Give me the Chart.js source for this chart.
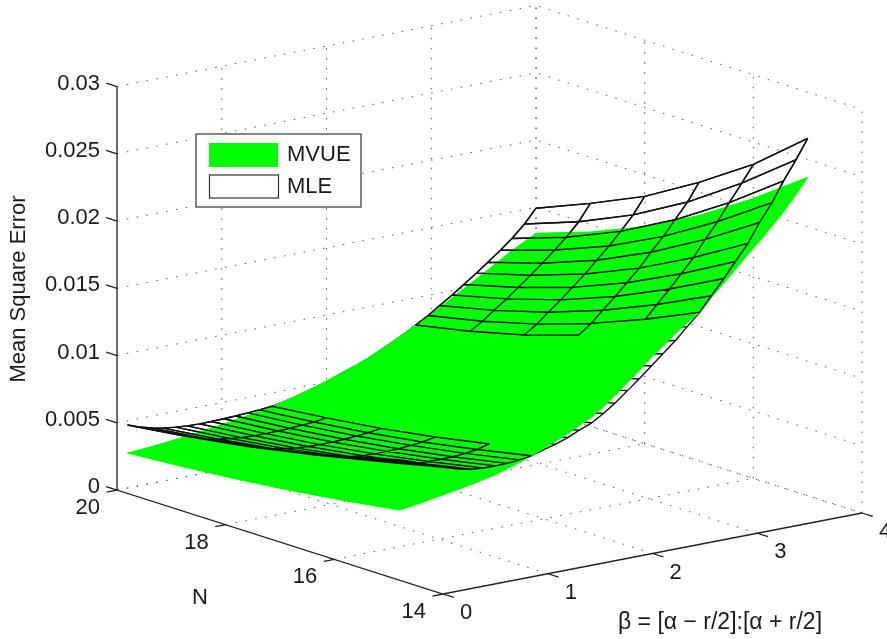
<!DOCTYPE html>
<html>
<head>
<meta charset="utf-8">
<style>
  html, body { margin: 0; padding: 0; background: #fff; }
  canvas { display: block; }
</style>
<script src="https://cdn.jsdelivr.net/npm/chart.js@4"></script>
</head>
<body>
<canvas id="grafico" width="887" height="639"></canvas>
<script>
// axis ticks
const zTicks = [0, 0.005, 0.01, 0.015, 0.02, 0.025, 0.03];
const zTickLabels = ["0", "0.005", "0.01", "0.015", "0.02", "0.025", "0.03"];
const betaTicks = [0, 1, 2, 3, 4];
const nTicks = [14, 16, 18, 20];

const zAxisTitle = "Mean Square Error";
const nAxisTitle = "N";
const betaAxisTitle = "β = [α − r/2]:[α + r/2]";
const legendLabels = ["MVUE", "MLE"];

// surface grid
const nValues = [15, 16, 17, 18, 19, 20];
const betaValues = [0.1, 0.21, 0.33, 0.44, 0.56, 0.67, 0.79, 0.9, 1.02, 1.13, 1.25, 1.36, 1.48, 1.59, 1.71, 1.82, 1.94, 2.05, 2.16, 2.28, 2.39, 2.51, 2.62, 2.74, 2.85, 2.97, 3.08, 3.2, 3.31, 3.43, 3.54, 3.66, 3.77, 3.89, 4];

// MLE, one row per N
const mleN15 = [.00855,.00825,.00790,.00760,.00727,.00700,.00680,.00672,.00670,.00672,.00680,.00694,.00722,.00745,.00777,.00815,.00852,.00905,.00965,.01040,.01110,.01190,.01265,.01345,.01430,.01519,.01625,.01735,.01845,.01962,.02100,.02230,.02375,.02515,.02656];
const mleN16 = [.00751,.00720,.00688,.00661,.00634,.00613,.00597,.00592,.00591,.00593,.00600,.00612,.00635,.00656,.00685,.00720,.00754,.00801,.00856,.00931,.00998,.01061,.01114,.01180,.01259,.01338,.01431,.01528,.01625,.01728,.01846,.01961,.02085,.02212,.02334];
const mleN17 = [.00658,.00627,.00597,.00573,.00552,.00535,.00523,.00520,.00520,.00523,.00530,.00539,.00558,.00577,.00604,.00635,.00667,.00708,.00755,.00816,.00872,.00928,.00978,.01038,.01108,.01178,.01259,.01344,.01429,.01520,.01621,.01721,.01828,.01942,.02072];
const mleN18 = [.00580,.00550,.00522,.00500,.00483,.00470,.00462,.00460,.00461,.00465,.00471,.00479,.00493,.00511,.00536,.00564,.00595,.00630,.00671,.00721,.00767,.00818,.00864,.00920,.00981,.01044,.01116,.01190,.01266,.01347,.01433,.01521,.01613,.01718,.01839];
const mleN19 = [.00518,.00487,.00461,.00442,.00428,.00418,.00413,.00413,.00414,.00418,.00423,.00430,.00442,.00459,.00482,.00508,.00537,.00568,.00604,.00644,.00682,.00730,.00774,.00825,.00880,.00937,.01001,.01068,.01136,.01209,.01282,.01362,.01441,.01538,.01658];
const mleN20 = [.00468,.00437,.00412,.00394,.00383,.00376,.00373,.00374,.00376,.00380,.00385,.00391,.00400,.00416,.00438,.00462,.00490,.00518,.00549,.00582,.00614,.00658,.00700,.00748,.00798,.00850,.00908,.00968,.01030,.01096,.01160,.01232,.01302,.01392,.01493];

// MVUE, one row per N
const mvueN15 = [.00480,.00490,.00505,.00520,.00535,.00550,.00567,.00585,.00605,.00630,.00660,.00692,.00730,.00765,.00805,.00850,.00895,.00955,.01020,.01100,.01170,.01255,.01320,.01395,.01460,.01515,.01610,.01700,.01785,.01880,.01960,.02055,.02145,.02255,.02367];
const mvueN16 = [.00421,.00430,.00442,.00456,.00469,.00483,.00498,.00515,.00533,.00555,.00581,.00608,.00633,.00671,.00707,.00747,.00787,.00838,.00894,.00961,.01021,.01095,.01154,.01221,.01265,.01315,.01395,.01497,.01573,.01657,.01729,.01813,.01893,.01987,.02081];
const mvueN17 = [.00368,.00376,.00387,.00399,.00411,.00424,.00437,.00452,.00469,.00488,.00510,.00533,.00556,.00588,.00620,.00655,.00690,.00735,.00782,.00838,.00888,.00954,.01006,.01067,.01095,.01160,.01235,.01316,.01384,.01458,.01523,.01599,.01670,.01748,.01826];
const mvueN18 = [.00324,.00331,.00340,.00351,.00362,.00374,.00387,.00400,.00415,.00433,.00451,.00471,.00491,.00519,.00547,.00578,.00610,.00648,.00688,.00735,.00778,.00835,.00883,.00938,.00972,.01030,.01095,.01165,.01226,.01293,.01352,.01420,.01483,.01549,.01614];
const mvueN19 = [.00289,.00295,.00303,.00313,.00324,.00334,.00346,.00359,.00373,.00388,.00404,.00421,.00440,.00463,.00489,.00517,.00546,.00579,.00614,.00653,.00690,.00741,.00785,.00836,.00875,.00925,.00985,.01045,.01100,.01161,.01215,.01276,.01334,.01390,.01445];
const mvueN20 = [.00260,.00266,.00273,.00282,.00292,.00302,.00313,.00325,.00338,.00352,.00366,.00381,.00398,.00418,.00442,.00467,.00494,.00523,.00553,.00586,.00618,.00664,.00705,.00752,.00797,.00845,.00893,.00947,.00998,.01053,.01104,.01160,.01213,.01261,.01307];

const mleRows = [mleN15, mleN16, mleN17, mleN18, mleN19, mleN20];
const mvueRows = [mvueN15, mvueN16, mvueN17, mvueN18, mvueN19, mvueN20];

// view of the 3D box, matlab style (orthographic)
function project(beta, n, z) {
  return {
    x: 443 + beta * 104.75 - (n - 14) * 54.33,
    y: 594 - beta * 20.25 - (n - 14) * 17.33 - z * 13450
  };
}

const gap = { x: NaN, y: NaN };

// dotted grid on the two back walls and the floor
const gridPoints = [];
zTicks.forEach((z) => {
  gridPoints.push(project(0, 20, z), project(4, 20, z), project(4, 14, z), gap);
});
betaTicks.slice(1).forEach((b) => {
  gridPoints.push(project(b, 20, 0), project(b, 20, 0.03), gap);
  gridPoints.push(project(b, 14, 0), project(b, 20, 0), gap);
});
nTicks.forEach((n) => {
  gridPoints.push(project(4, n, 0), project(4, n, 0.03), gap);
  if (n > 14) gridPoints.push(project(0, n, 0), project(4, n, 0), gap);
});

// solid axes and their ticks
const axisPoints = [project(0, 20, 0.03), project(0, 20, 0), project(0, 14, 0), project(4, 14, 0), gap];
zTicks.forEach((z) => {
  axisPoints.push(project(0, 20, z), project(0, 20.2, z), gap);
});
nTicks.forEach((n) => {
  axisPoints.push(project(0, n, 0), project(-0.1, n, 0), gap);
});
betaTicks.forEach((b) => {
  axisPoints.push(project(b, 14, 0), project(b, 13.8, 0), gap);
});

// outline of the green surface
const last = betaValues.length - 1;
const mvueOutline = [];
betaValues.forEach((b, i) => mvueOutline.push(project(b, 15, mvueN15[i])));
nValues.forEach((n, r) => mvueOutline.push(project(4, n, mvueRows[r][last])));
for (let i = last; i >= 0; i--) mvueOutline.push(project(betaValues[i], 20, mvueN20[i]));
for (let r = nValues.length - 1; r >= 0; r--) mvueOutline.push(project(betaValues[0], nValues[r], mvueRows[r][0]));

// the whole mesh goes behind the green, the part above the MVUE goes in front
const meshBehind = [];
const meshFront = [];

function addSegment(r1, i1, r2, i2) {
  const a = project(betaValues[i1], nValues[r1], mleRows[r1][i1]);
  const b = project(betaValues[i2], nValues[r2], mleRows[r2][i2]);
  meshBehind.push(a, b, gap);
  if (mleRows[r1][i1] > mvueRows[r1][i1] && mleRows[r2][i2] > mvueRows[r2][i2]) {
    meshFront.push(a, b, gap);
  }
}

nValues.forEach((n, r) => {
  betaValues.forEach((b, i) => {
    if (i < last) addSegment(r, i, r, i + 1);
    if (r < nValues.length - 1) addSegment(r, i, r + 1, i);
  });
});

const fonte = '22px "Liberation Sans", Arial, sans-serif';

// tick labels, axis titles and the legend box
const textos = {
  id: "textos",
  afterDatasetsDraw(chart) {
    const ctx = chart.ctx;
    const sx = chart.scales.x;
    const sy = chart.scales.y;
    const px = (p) => ({ x: sx.getPixelForValue(p.x), y: sy.getPixelForValue(p.y) });

    ctx.save();
    ctx.fillStyle = "#1a1a1a";
    ctx.font = fonte;
    ctx.textBaseline = "middle";

    ctx.textAlign = "right";
    zTicks.forEach((z, i) => {
      const p = px(project(0, 20, z));
      ctx.fillText(zTickLabels[i], p.x - 17, p.y - 3);
    });
    nTicks.forEach((n) => {
      const p = px(project(0, n, 0));
      ctx.fillText(String(n), p.x - 17, p.y + 18);
    });

    ctx.textAlign = "center";
    betaTicks.forEach((b) => {
      const p = px(project(b, 14, 0));
      ctx.fillText(String(b), p.x + 23, p.y + 19);
    });
    ctx.fillText(nAxisTitle, 200, 598);
    ctx.font = '23px "Liberation Sans", Arial, sans-serif';
    ctx.fillText(betaAxisTitle, 720, 623);
    ctx.font = fonte;

    ctx.save();
    ctx.translate(19, 289);
    ctx.rotate(-Math.PI / 2);
    ctx.fillText(zAxisTitle, 0, 0);
    ctx.restore();

    // legend
    ctx.fillStyle = "#fff";
    ctx.fillRect(196, 134, 165, 73);
    ctx.strokeStyle = "#333";
    ctx.lineWidth = 1.2;
    ctx.strokeRect(196, 134, 165, 73);
    ctx.fillStyle = "#00ff00";
    ctx.fillRect(209, 143, 69, 24);
    ctx.strokeRect(209.5, 175, 69, 23);
    ctx.fillStyle = "#1a1a1a";
    ctx.textAlign = "left";
    ctx.fillText(legendLabels[0], 287, 155);
    ctx.fillText(legendLabels[1], 287, 187);
    ctx.restore();
  }
};

new Chart(document.querySelector("#grafico").getContext("2d"), {
  type: "scatter",
  data: {
    // first dataset is drawn on top
    datasets: [
      { label: "eixos", data: axisPoints, showLine: true, pointRadius: 0, borderColor: "#222", borderWidth: 1.3 },
      { label: "MLE", data: meshFront, showLine: true, pointRadius: 0, borderColor: "#111", borderWidth: 1.4 },
      { label: "MVUE", data: mvueOutline, showLine: true, pointRadius: 0, borderColor: "#00ff00", borderWidth: 1, backgroundColor: "#00ff00", fill: "shape" },
      { label: "MLE atras", data: meshBehind, showLine: true, pointRadius: 0, borderColor: "#111", borderWidth: 1.4 },
      { label: "grade", data: gridPoints, showLine: true, pointRadius: 0, borderColor: "#555", borderWidth: 1, borderDash: [1.5, 8.5] }
    ]
  },
  options: {
    responsive: false,
    animation: false,
    layout: { padding: 0 },
    plugins: { legend: { display: false }, tooltip: { enabled: false } },
    scales: {
      x: { type: "linear", min: 0, max: 887, display: false },
      y: { type: "linear", min: 0, max: 639, reverse: true, display: false }
    }
  },
  plugins: [textos]
});
</script>
</body>
</html>
